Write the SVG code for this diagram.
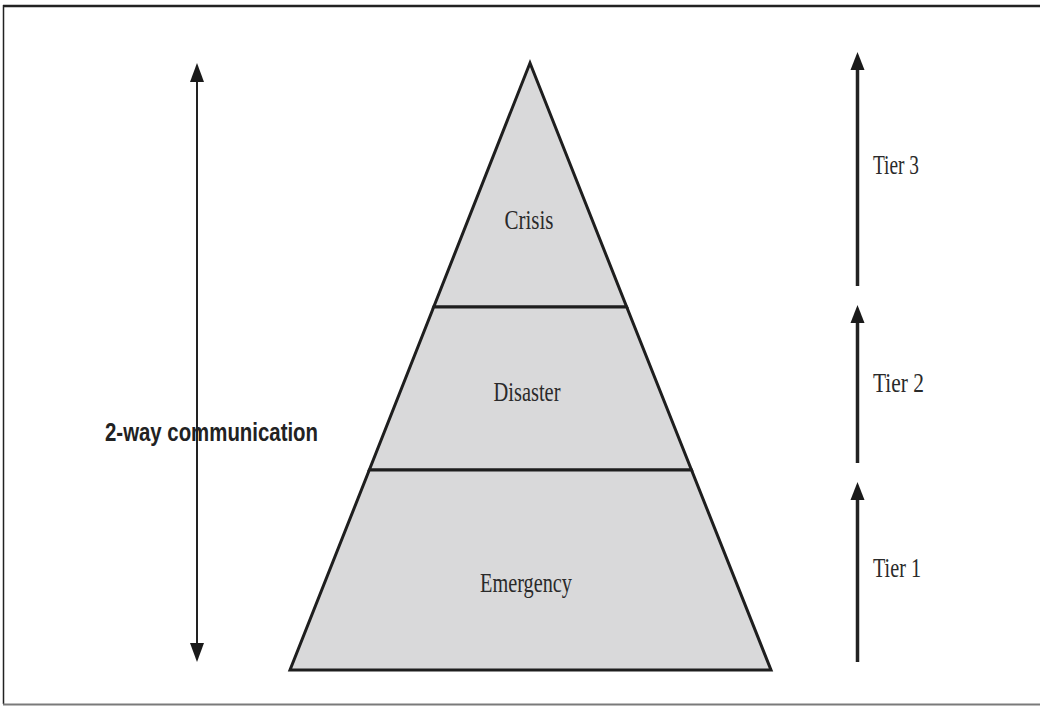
<svg xmlns="http://www.w3.org/2000/svg" width="1040" height="706" viewBox="0 0 1040 706">
  <style>
    .frame { stroke: #222; fill: none; }
    .tier { fill: #d9d9da; stroke: #1e1e1e; stroke-width: 3; stroke-linejoin: miter; }
    .label { font-family: "Liberation Serif", "Times New Roman", serif; font-size: 27px; fill: #2a2a2a; }
    .side { font-family: "Liberation Sans", Arial, sans-serif; font-weight: bold; font-size: 26px; fill: #222; }
    .shaft { stroke: #222; fill: none; }
    .head { fill: #1a1a1a; }
  </style>

  <rect width="1040" height="706" fill="#ffffff"/>

  <!-- page frame -->
  <g id="frame">
    <line class="frame" x1="3" y1="6" x2="1040" y2="6" stroke-width="2.5"/>
    <line class="frame" x1="3.5" y1="5" x2="3.5" y2="704" stroke-width="1.5"/>
    <line x1="3" y1="704.5" x2="1040" y2="704.5" stroke="#7a7a7a" stroke-width="2"/>
  </g>

  <!-- pyramid tiers -->
  <g id="crisis">
    <polygon class="tier" points="530,63 626.7,307 433.7,307"/>
    <text class="label" x="529" y="229" text-anchor="middle" textLength="49" lengthAdjust="spacingAndGlyphs">Crisis</text>
  </g>
  <g id="disaster">
    <polygon class="tier" points="433.7,307 626.7,307 691.5,470 369.3,470"/>
    <text class="label" x="527" y="401" text-anchor="middle" textLength="67" lengthAdjust="spacingAndGlyphs">Disaster</text>
  </g>
  <g id="emergency">
    <polygon class="tier" points="369.3,470 691.5,470 771,670 290,670"/>
    <text class="label" x="526" y="592" text-anchor="middle" textLength="92" lengthAdjust="spacingAndGlyphs">Emergency</text>
  </g>

  <!-- arrows -->
  <g id="connectors">
    <line class="shaft" x1="197" y1="78" x2="197" y2="648" stroke-width="2"/>
    <polygon class="head" points="197,63 204,82 190,82"/>
    <polygon class="head" points="197,662 204,643 190,643"/>

    <line class="shaft" x1="857.5" y1="66" x2="857.5" y2="286" stroke-width="3.5"/>
    <polygon class="head" points="857.5,52 864.5,70 850.5,70"/>

    <line class="shaft" x1="857.5" y1="319" x2="857.5" y2="463" stroke-width="3.5"/>
    <polygon class="head" points="857.5,305 864.5,323 850.5,323"/>

    <line class="shaft" x1="857.5" y1="496" x2="857.5" y2="662" stroke-width="3.5"/>
    <polygon class="head" points="857.5,482 864.5,500 850.5,500"/>
  </g>

  <!-- side labels -->
  <g id="two-way">
    <text class="side" x="105" y="441" textLength="213" lengthAdjust="spacingAndGlyphs">2-way communication</text>
  </g>
  <g id="tier3">
    <text class="label" x="873" y="174" textLength="46" lengthAdjust="spacingAndGlyphs">Tier 3</text>
  </g>
  <g id="tier2">
    <text class="label" x="873" y="392" textLength="51" lengthAdjust="spacingAndGlyphs">Tier 2</text>
  </g>
  <g id="tier1">
    <text class="label" x="873" y="577" textLength="48" lengthAdjust="spacingAndGlyphs">Tier 1</text>
  </g>
</svg>
